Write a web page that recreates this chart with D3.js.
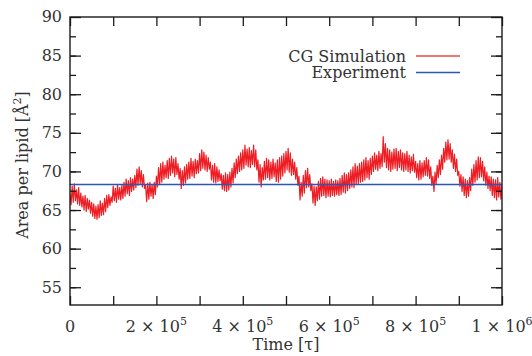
<!DOCTYPE html>
<html>
<head>
<meta charset="utf-8">
<script src="https://cdn.jsdelivr.net/npm/d3@7/dist/d3.min.js"></script>
<style>
  body { margin: 0; background: #fff; }
  svg { display: block; }
</style>
</head>
<body>
<div id="chart"></div>
<script>
// area per lipid, one value every 2500 tau
const timeStep = 2500;
const simValues = [
  67.1, 65.7, 68.1, 66.0, 68.4, 66.2, 67.6, 65.8, 67.9, 65.6,
  67.2, 65.4, 66.8, 65.0, 66.9, 64.8, 66.5, 65.1, 66.3, 64.6,
  66.0, 64.2, 65.8, 63.9, 65.5, 63.8, 65.7, 64.0, 66.2, 64.3,
  65.9, 64.4, 66.5, 64.8, 66.9, 65.3, 67.0, 65.6, 66.7, 66.0,
  68.1, 66.2, 67.8, 66.0, 68.3, 66.4, 67.9, 66.3, 68.2, 66.5,
  68.6, 66.8, 69.0, 67.1, 68.8, 66.9, 69.2, 67.4, 69.0, 67.6,
  69.5, 67.9, 70.3, 68.2, 70.6, 68.4, 70.1, 68.0, 69.6, 67.8,
  68.2, 66.1, 68.5, 66.4, 68.6, 66.8, 68.3, 66.5, 68.6, 67.0,
  69.4, 68.0, 70.5, 68.3, 71.0, 68.6, 71.2, 69.0, 70.8, 69.2,
  71.4, 69.1, 71.7, 69.5, 72.0, 69.8, 71.6, 69.3, 71.8, 69.6,
  71.0, 69.0, 70.4, 67.8, 70.1, 68.2, 70.6, 68.5, 70.9, 69.0,
  71.2, 69.1, 71.7, 69.4, 71.3, 69.2, 71.6, 69.7, 71.4, 69.8,
  72.3, 70.1, 72.8, 70.4, 72.5, 70.2, 72.1, 70.0, 71.8, 70.3,
  71.2, 68.9, 70.8, 68.6, 71.0, 68.5, 70.6, 68.7, 70.2, 68.8,
  69.7, 67.7, 69.5, 67.5, 69.8, 67.4, 69.6, 67.6, 69.9, 68.0,
  70.4, 68.5, 71.1, 69.2, 71.6, 69.7, 72.0, 70.0, 72.4, 70.2,
  72.8, 70.4, 73.4, 70.8, 72.9, 70.6, 73.1, 70.5, 72.7, 70.9,
  73.4, 70.6, 72.8, 70.2, 71.5, 68.6, 70.9, 68.0, 70.5, 68.9,
  71.3, 69.0, 71.7, 69.2, 71.5, 68.9, 71.2, 69.1, 71.6, 69.3,
  71.1, 68.7, 71.5, 68.6, 71.8, 69.0, 72.0, 69.4, 72.3, 69.8,
  72.6, 70.2, 73.0, 69.9, 72.4, 69.5, 71.6, 69.6, 71.2, 69.0,
  70.5, 68.2, 69.4, 66.3, 68.6, 66.8, 69.5, 67.2, 70.1, 67.9,
  70.4, 68.0, 69.6, 67.5, 68.4, 65.9, 68.1, 65.6, 68.0, 66.2,
  68.7, 66.4, 69.1, 66.8, 69.3, 66.9, 69.0, 66.6, 68.9, 66.8,
  68.8, 66.7, 69.0, 66.9, 68.7, 66.8, 68.9, 67.0, 68.8, 66.9,
  69.1, 67.0, 69.5, 67.3, 69.8, 67.2, 69.6, 67.5, 69.8, 67.8,
  70.2, 68.0, 70.6, 67.9, 71.0, 68.3, 70.7, 68.4, 71.0, 68.6,
  71.2, 68.7, 71.5, 68.9, 71.8, 69.2, 71.4, 69.0, 71.7, 69.6,
  72.0, 70.0, 72.4, 70.3, 72.1, 70.1, 72.6, 70.4, 72.3, 70.6,
  74.5, 71.2, 73.6, 70.5, 73.0, 70.2, 72.8, 70.0, 72.5, 70.3,
  72.9, 70.4, 73.0, 70.1, 72.6, 70.5, 72.8, 70.2, 72.4, 70.0,
  72.3, 70.2, 72.6, 70.0, 72.1, 69.8, 71.9, 70.1, 72.2, 69.9,
  71.3, 69.2, 71.0, 68.9, 71.4, 69.0, 71.1, 69.3, 71.4, 69.5,
  71.8, 69.4, 71.5, 69.1, 70.6, 68.2, 69.4, 67.4, 69.9, 68.4,
  70.8, 69.2, 71.5, 69.6, 72.1, 70.3, 73.0, 71.2, 73.8, 71.5,
  74.1, 71.6, 73.6, 71.2, 72.8, 70.4, 72.2, 70.0, 71.6, 69.5,
  70.0, 68.1, 69.6, 67.4, 69.3, 66.9, 69.0, 66.6, 68.8, 66.8,
  69.2, 67.5, 70.3, 68.2, 70.9, 68.6, 71.4, 68.9, 71.9, 69.2,
  71.8, 69.3, 71.3, 68.8, 70.6, 68.2, 69.9, 67.8, 69.4, 67.5,
  69.3, 66.9, 69.0, 66.6, 68.9, 66.3, 69.2, 66.7, 68.6, 66.4,
  68.2
];
const experimentValue = 68.3;
const seriesNames = ["CG Simulation", "Experiment"];
const seriesColors = ["#ee1d23", "#2a56b4"];
const legendColors = ["#ef4a3a", "#2a56b4"];
const yTickValues = [55, 60, 65, 70, 75, 80, 85, 90];
const xTickValues = [0, 2e5, 4e5, 6e5, 8e5, 1e6];

const W = 532, H = 356;
const margin = {top: 17, right: 30, bottom: 51, left: 70};
const width = W - margin.left - margin.right;
const height = H - margin.top - margin.bottom;
const serif = "DejaVu Serif";
const fs = 16;

const svg = d3.select('#chart').append('svg')
  .attr('width', W)
  .attr('height', H)
  .style('font-family', serif);

const chart = svg.append('g')
  .attr('transform', `translate(${margin.left}, ${margin.top})`);

const x = d3.scaleLinear().domain([0, 1e6]).range([0, width]);
const y = d3.scaleLinear().domain([52.7, 90]).range([height, 0]);

const simData = simValues.map((v, i) => ({t: i * timeStep, v: v}));

// clip so the series stays inside the frame
chart.append('clipPath').attr('id', 'clip')
  .append('rect').attr('width', width).attr('height', height);

const line = d3.line().x(d => x(d.t)).y(d => y(d.v));

chart.append('path')
  .datum(simData)
  .attr('clip-path', 'url(#clip)')
  .attr('fill', 'none')
  .attr('stroke', seriesColors[0])
  .attr('stroke-width', 1.2)
  .attr('stroke-linejoin', 'round')
  .attr('d', line);

chart.append('path')
  .datum([{t: 0, v: experimentValue}, {t: 1e6, v: experimentValue}])
  .attr('fill', 'none')
  .attr('stroke', seriesColors[1])
  .attr('stroke-width', 1.5)
  .attr('d', line);

// frame
chart.append('rect')
  .attr('width', width).attr('height', height)
  .attr('fill', 'none').attr('stroke', '#1a1a1a').attr('stroke-width', 1.4);

const yMinor = d3.range(55, 90, 2.5);
const xAll = d3.range(0, 1e6 + 1, 1e5);

function styleAxis(g) {
  g.select('.domain').remove();
  g.selectAll('.tick line').attr('stroke', '#1a1a1a').attr('stroke-width', 1.3);
}

// minor y ticks, both sides
chart.append('g').call(d3.axisRight(y).tickValues(yMinor).tickSize(6).tickFormat(''))
  .call(styleAxis);
chart.append('g').attr('transform', `translate(${width},0)`)
  .call(d3.axisLeft(y).tickValues(yMinor).tickSize(6).tickFormat('')).call(styleAxis);
// major y ticks
chart.append('g').attr('transform', `translate(${width},0)`)
  .call(d3.axisLeft(y).tickValues(yTickValues).tickSize(11).tickFormat('')).call(styleAxis);
chart.append('g')
  .call(d3.axisRight(y).tickValues(yTickValues).tickSize(11).tickFormat(''))
  .call(styleAxis);

chart.append('g').selectAll('text')
  .data(yTickValues)
  .enter().append('text')
  .attr('x', -8).attr('y', d => y(d)).attr('dy', d => d === 90 ? '0.3em' : '0.35em')
  .attr('text-anchor', 'end').attr('font-size', fs).attr('fill', '#333')
  .text(d => d);

// x ticks, top and bottom
chart.append('g').attr('transform', `translate(0,${height})`)
  .call(d3.axisTop(x).tickValues(xAll).tickSize(9).tickFormat('')).call(styleAxis);
chart.append('g')
  .call(d3.axisBottom(x).tickValues(xAll).tickSize(9).tickFormat('')).call(styleAxis);

const xLab = chart.append('g').selectAll('text')
  .data(xTickValues)
  .enter().append('text')
  .attr('x', d => x(d)).attr('y', height + 27)
  .attr('text-anchor', 'middle').attr('font-size', fs).attr('fill', '#333');
xLab.each(function(d) {
  const t = d3.select(this);
  if (d === 0) { t.text('0'); return; }
  const e = Math.floor(Math.log10(d) + 1e-9);
  const m = Math.round(d / Math.pow(10, e));
  t.append('tspan').text(`${m} \u00d7 10`);
  t.append('tspan').attr('font-size', 11).attr('dy', -7).text(e);
});

// axis titles
svg.append('text')
  .attr('x', margin.left + width / 2).attr('y', 350)
  .attr('text-anchor', 'middle').attr('font-size', fs).attr('fill', '#333')
  .text('Time [\u03c4]');

const yTitle = svg.append('text')
  .attr('transform', `translate(28, ${margin.top + height / 2 + 4}) rotate(-90)`)
  .attr('text-anchor', 'middle').attr('font-size', fs).attr('fill', '#333');
yTitle.append('tspan').text('Area per lipid [\u00c5');
yTitle.append('tspan').attr('font-size', 11).attr('dy', -7).text('2');
yTitle.append('tspan').attr('dy', 7).text(']');

// legend
const legend = svg.append('g').selectAll('g')
  .data(seriesNames)
  .enter().append('g')
  .attr('transform', (d, i) => `translate(0, ${56 + i * 16.5})`);

legend.append('line')
  .attr('x1', 416).attr('x2', 460)
  .attr('stroke', (d, i) => legendColors[i])
  .attr('stroke-width', 1.5);

legend.append('text')
  .attr('x', 406).attr('dy', '0.35em')
  .attr('text-anchor', 'end').attr('font-size', fs).attr('fill', '#333')
  .text(d => d);
</script>
</body>
</html>
